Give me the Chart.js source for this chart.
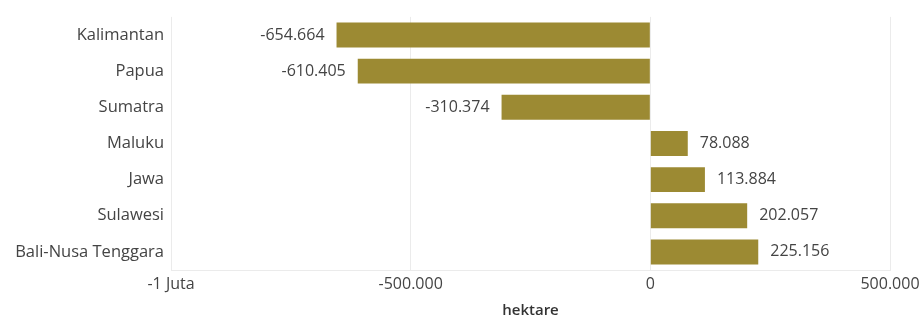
<!DOCTYPE html>
<html>
<head>
<meta charset="utf-8">
<script src="https://cdn.jsdelivr.net/npm/chart.js@4/dist/chart.umd.min.js"></script>
<style>
  html,body{margin:0;padding:0;background:#fff;overflow:hidden;}
  #wrap{width:919px;height:320px;position:relative;}
</style>
</head>
<body>
<div id="wrap"><canvas id="chart"></canvas></div>
<script>
// data (hectares)
const regions = ['Kalimantan','Papua','Sumatra','Maluku','Jawa','Sulawesi','Bali-Nusa Tenggara'];
const hectares = [-654664, -610405, -310374, 78088, 113884, 202057, 225156];
const xTicks = [-1000000, -500000, 0, 500000];
const xTickLabels = ['-1 Juta', '-500.000', '0', '500.000'];
const axisTitle = 'hektare';

const FONT = "'Open Sans', 'Noto Sans', sans-serif";
const barCol = '#9c8a33', txt = '#444444', grid = '#ebebeb';

// dotted thousands, like the source
const fmt = v => (v < 0 ? '-' : '') + Math.abs(v).toString().replace(/\B(?=(\d{3})+(?!\d))/g, '.');

const valueLabels = {
  id: 'valueLabels',
  afterDatasetsDraw(chart){
    const ctx = chart.ctx, meta = chart.getDatasetMeta(0), ds = chart.data.datasets[0];
    ctx.save();
    ctx.font = '16px ' + FONT;
    ctx.fillStyle = txt;
    ctx.textBaseline = 'middle';
    meta.data.forEach((bar, i) => {
      const v = ds.data[i];
      if(v < 0){ ctx.textAlign = 'right'; ctx.fillText(fmt(v), bar.x - 12, bar.y); }
      else     { ctx.textAlign = 'left';  ctx.fillText(fmt(v), bar.x + 12, bar.y); }
    });
    ctx.restore();
  }
};

new Chart(document.getElementById('chart'), {
  type: 'bar',
  plugins: [valueLabels],
  data: {
    labels: regions,
    datasets: [{ data: hectares, backgroundColor: barCol, borderWidth: 0,
                 barPercentage: 0.69, categoryPercentage: 1 }]
  },
  options: {
    indexAxis: 'y',
    responsive: true, maintainAspectRatio: false, animation: false,
    layout: { padding: { top: 11, right: 29, left: 0, bottom: 0 } },
    plugins: { legend: { display: false }, tooltip: { enabled: false } },
    scales: {
      x: {
        min: -1000000, max: 500000,
        afterBuildTicks: s => { s.ticks = xTicks.map(v => ({ value: v })); },
        afterFit: s => { s.paddingRight = 0; s.paddingLeft = 0; s.height = 50; },
        ticks: { color: txt, font: { family: FONT, size: 16 }, padding: 5, maxRotation: 0,
                 callback: (v, i) => xTickLabels[i] },
        grid: { color: grid, drawTicks: false },
        border: { color: grid },
        title: { display: true, text: axisTitle, color: '#333', padding: { top: 6, bottom: 0 },
                 font: { family: FONT, size: 15, weight: '600' } }
      },
      y: {
        afterFit: s => { s.width = 171; },
        ticks: { color: txt, font: { family: FONT, size: 16.5 }, padding: 7 },
        grid: { display: false, drawTicks: false },
        border: { display: false }
      }
    }
  }
});
</script>
</body>
</html>
